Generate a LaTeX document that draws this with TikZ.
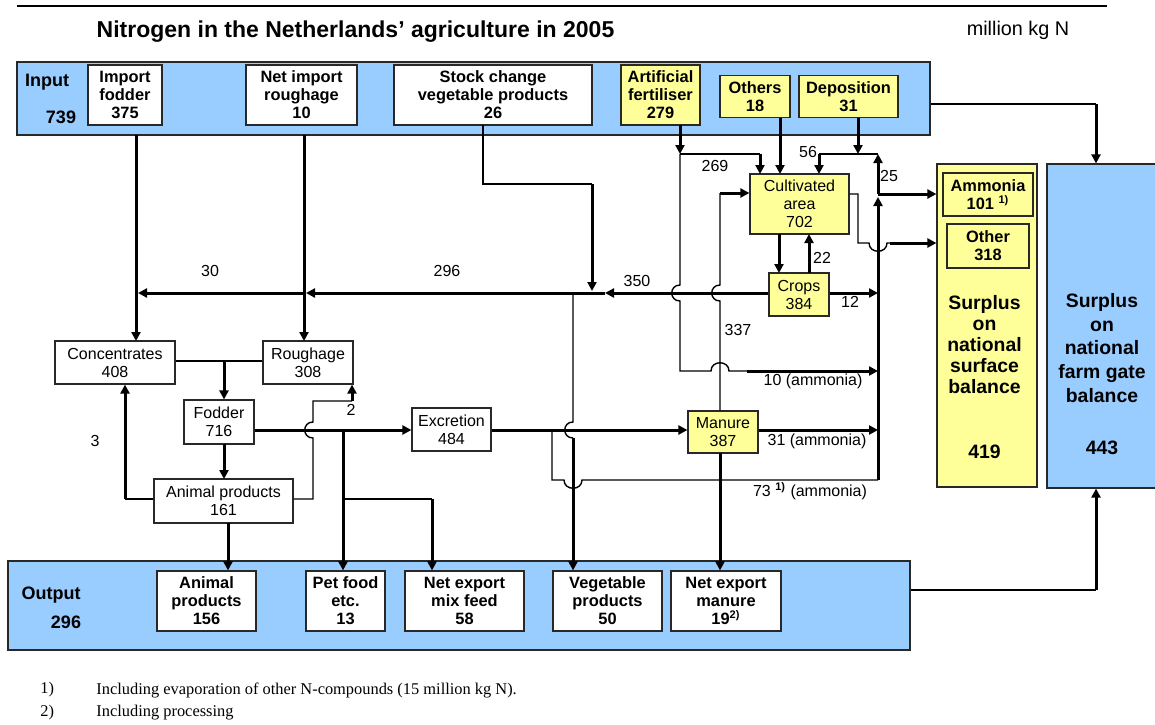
\documentclass[tikz,border=0pt]{standalone}
\usepackage{fontspec}
\setmainfont{Liberation Sans}
\newfontfamily\notefont{Liberation Serif}
\usetikzlibrary{positioning,calc}
\usetikzlibrary{arrows.meta}
\definecolor{bandblue}{RGB}{153,204,255}
\definecolor{boxyellow}{RGB}{255,255,153}
\definecolor{rim}{RGB}{40,40,40}
\newcommand{\regf}{\fontsize{8}{9}\selectfont}
\newcommand{\boldf}{\fontsize{8.2}{9}\selectfont\bfseries}
\newcommand{\supr}[1]{\textsuperscript{\fontsize{5.5}{6}\selectfont\bfseries #1}}
\tikzstyle{band} = [rectangle, draw=rim, fill=bandblue, line width=0.6pt, inner sep=0pt]
\tikzstyle{wbox} = [rectangle, draw=rim, fill=white, line width=0.6pt, inner sep=0pt, align=center, font=\regf]
\tikzstyle{ybox} = [wbox, fill=boxyellow]
\tikzstyle{wboxb} = [wbox, font=\boldf]
\tikzstyle{yboxb} = [ybox, font=\boldf]
\tikzstyle{flow} = [line width=1.5pt, -{Triangle[length=4.5pt,width=4.5pt]}]
\tikzstyle{link} = [line width=0.7pt]
\tikzstyle{num} = [inner sep=0pt, font=\regf]
\tikzstyle{head} = [inner sep=0pt, font=\fontsize{9}{10}\selectfont\bfseries]
\tikzstyle{big} = [inner sep=0pt, align=center, font=\fontsize{9.7}{10.5}\selectfont\bfseries]
\begin{document}
\begin{tikzpicture}[x=0.5pt,y=-0.5pt]
	\useasboundingbox (0,0) rectangle (1155,724);
	\draw[link] (17,6) -- (1107,6);
	\node (title) at (355.5,32) [inner sep=0pt, font=\fontsize{11.5}{12}\selectfont\bfseries] {Nitrogen in the Netherlands’ agriculture in 2005};
	\node (unit) at (1018,30) [inner sep=0pt, font=\fontsize{9.9}{11}\selectfont] {million kg N};

	\node (bin) at (473.5,98.5) [band, minimum width=456.5pt, minimum height=36.5pt] {};
	\node (tin) at (47,82) [head] {Input};
	\node (vin) at (61,117) [head] {739};
	\node (impfod) at (125,95) [wboxb, minimum width=37pt, minimum height=30pt] {Import\\fodder\\375};
	\node (netrough) at (301.5,95) [wboxb, minimum width=55.5pt, minimum height=30pt] {Net import\\roughage\\10};
	\node (stock) at (493,95) [wboxb, minimum width=99pt, minimum height=30pt] {Stock change\\vegetable products\\26};
	\node (artfert) at (660.5,95) [yboxb, minimum width=39.5pt, minimum height=30pt] {Artificial\\fertiliser\\279};
	\node (others) at (755,96.7) [yboxb, minimum width=35pt, minimum height=21pt] {Others\\18};
	\node (depos) at (848.5,96.7) [yboxb, minimum width=49.5pt, minimum height=21pt] {Deposition\\31};

	\node (cult) at (799.5,204) [ybox, minimum width=49.5pt, minimum height=30pt] {Cultivated\\area\\702};
	\node (crops) at (799,294.5) [ybox, minimum width=30pt, minimum height=21.5pt] {Crops\\384};
	\node (conc) at (115,362.5) [wbox, minimum width=60pt, minimum height=21.5pt] {Concentrates\\408};
	\node (rough) at (308,362.5) [wbox, minimum width=45pt, minimum height=21.5pt] {Roughage\\308};
	\node (fod) at (219,422) [wbox, minimum width=35pt, minimum height=22pt] {Fodder\\716};
	\node (anim) at (223.5,501) [wbox, minimum width=69.5pt, minimum height=22pt] {Animal products\\161};
	\node (excr) at (451.5,429.5) [wbox, minimum width=39.5pt, minimum height=21.5pt] {Excretion\\484};
	\node (man) at (723,432) [ybox, minimum width=35pt, minimum height=21pt] {Manure\\387};

	\node (surf) at (987,325.5) [rectangle, draw=rim, fill=boxyellow, line width=0.6pt, minimum width=50pt, minimum height=161.5pt] {};
	\node (amm) at (988,194.5) [yboxb, minimum width=45pt, minimum height=21.5pt] {Ammonia\\101 \supr{1)}};
	\node (oth) at (988,246) [yboxb, minimum width=41pt, minimum height=22pt] {Other\\318};
	\node (tsurf) at (984.5,345) [big] {Surplus\\on\\national\\surface\\balance};
	\node (vsurf) at (984.5,452) [big] {419};
	\node (farm) at (1103.5,326) [band, minimum width=56.5pt, minimum height=162pt] {};
	\node (tfarm) at (1102,348) [big, font=\fontsize{9.7}{11.8}\selectfont\bfseries] {Surplus\\on\\national\\farm gate\\balance};
	\node (vfarm) at (1102,448) [big] {443};

	\node (bout) at (459,605.5) [band, minimum width=451pt, minimum height=44.5pt] {};
	\node (tout) at (51,595) [head] {Output};
	\node (vout) at (66,622) [head] {296};
	\node (outanim) at (206.5,601) [wboxb, minimum width=49.5pt, minimum height=30pt] {Animal\\products\\156};
	\node (outpet) at (345.5,601) [wboxb, minimum width=39.5pt, minimum height=30pt] {Pet food\\etc.\\13};
	\node (outmix) at (464.5,601) [wboxb, minimum width=59.5pt, minimum height=30pt] {Net export\\mix feed\\58};
	\node (outveg) at (607.5,601) [wboxb, minimum width=54.5pt, minimum height=30pt] {Vegetable\\products\\50};
	\node (outman) at (726,601) [wboxb, minimum width=55pt, minimum height=30pt] {Net export\\manure\\19\supr{2)}};

	\node (n30) at (210,271) [num] {30};
	\node (n296) at (447,271) [num] {296};
	\node (n350) at (637,281) [num] {350};
	\node (n269) at (715,166) [num] {269};
	\node (n56) at (808,152) [num] {56};
	\node (n25) at (889,176) [num] {25};
	\node (n22) at (822,258) [num] {22};
	\node (n12) at (850,302) [num] {12};
	\node (n337) at (738,330) [num] {337};
	\node (n10) at (813,381) [num] {10 (ammonia)};
	\node (n31) at (817,441) [num] {31 (ammonia)};
	\node (n73) at (810,491) [num] {73 \supr{1)}\ (ammonia)};
	\node (n3) at (95,441) [num] {3};
	\node (n2) at (351,410) [num] {2};

	\node (f1) at (40,690) [anchor=west, inner sep=0pt, font=\notefont\fontsize{8.2}{9}\selectfont] {1)};
	\node (f1t) at (96,690) [anchor=west, inner sep=0pt, font=\notefont\fontsize{8.2}{9}\selectfont] {Including evaporation of other N-compounds (15 million kg N).};
	\node (f2) at (40,713) [anchor=west, inner sep=0pt, font=\notefont\fontsize{8.2}{9}\selectfont] {2)};
	\node (f2t) at (96,713) [anchor=west, inner sep=0pt, font=\notefont\fontsize{8.2}{9}\selectfont] {Including processing};

	\coordinate (ig) at (1096,104);
	\coordinate (og) at (1096,590);
	\coordinate (af) at (680,154);
	\coordinate (dp) at (858,154);
	\coordinate (sk) at (592,184);
	\coordinate (cl) at (878,194);
	\coordinate (cx) at (878,480);
	\coordinate (ca) at (224,361);
	\coordinate (pf) at (343,430);
	\coordinate (mx) at (343,499);
	\coordinate (ex) at (552,430);

	\draw[link] (bin.east |- ig) -- (ig);
	\draw[flow] (ig) -- (ig |- farm.north);
	\draw[link] (bout.east |- og) -- (og);
	\draw[flow] (og) -- (og |- farm.south);

	\draw[flow] (136,135) -- (136,341);
	\draw[flow] (304,135) -- (304,341);
	\draw[link] (483,125) -- (483,184) -- (sk);
	\draw[flow] (sk) -- (592,291);
	\draw[flow] (680,125) -- (af);
	\draw[link] (af) -- (760,154);
	\draw[flow] (760,154) -- (760,174);
	\draw[flow] (780,118) -- (780,174);
	\draw[flow] (858,118) -- (dp);
	\draw[link] (819,154) -- (878,154);
	\draw[flow] (819,154) -- (819,174);
	\draw[flow] (cx) -- (878,197);
	\draw[flow] (cl) -- (878,154);
	\draw[flow] (cl) -- (cl -| surf.west);
	\draw[link] (cult.east |- cl) -- (858,194) -- (858,243) -- (869,243) .. controls (869,254) and (887,254) .. (887,243) -- (890,243);
	\draw[flow] (890,243) -- (surf.west |- 0,243);

	\draw[flow] (779,234) -- (779,273);
	\draw[flow] (809,273) -- (809,234);
	\draw[flow] (crops.east |- 0,293) -- (878,293);
	\draw[flow] (crops.west |- 0,293) -- (605,293);
	\draw[flow] (605,293) -- (306,293);
	\draw[flow] (304,293) -- (138,293);

	\draw[link] (af) -- (680,285) .. controls (669,285) and (669,301) .. (680,301) -- (680,371) -- (711,371) .. controls (711,360) and (729,360) .. (729,371) -- (747,371);
	\draw[flow] (747,371) -- (878,371);
	\draw[link] (man.north -| 720,0) -- (720,301) .. controls (709,301) and (709,285) .. (720,285) -- (720,193);
	\draw[flow] (720,193) -- (cult.west |- 0,193);
	\draw[flow] (man.east |- 0,430) -- (878,430);
	\draw[flow] (720,453) -- (720,453 |- outman.north);

	\draw[link] (573,293) -- (573,422) .. controls (562,422) and (562,438) .. (573,438);
	\draw[flow] (573,438) -- (573,438 |- outveg.north);
	\draw[link] (ex) -- (552,480) -- (564,480) .. controls (564,491) and (582,491) .. (582,480) -- (cx);

	\draw[link] (conc.east |- ca) -- (rough.west |- ca);
	\draw[flow] (ca) -- (ca |- fod.north);
	\draw[flow] (224,444) -- (224,479);
	\draw[flow] (228,523) -- (228,523 |- outanim.north);
	\draw[flow] (fod.east |- pf) -- (excr.west |- pf);
	\draw[flow] (excr.east |- pf) -- (man.west |- pf);
	\draw[flow] (pf) -- (pf |- outpet.north);
	\draw[link] (mx) -- (432,499);
	\draw[flow] (432,499) -- (432,499 |- outmix.north);
	\draw[link] (anim.west |- 0,499) -- (125,499);
	\draw[flow] (125,499) -- (125,499 |- conc.south);
	\draw[link] (anim.east |- 0,499) -- (313,499) -- (313,438) .. controls (302,438) and (302,422) .. (313,422) -- (313,401) -- (352,401);
	\draw[flow] (352,401) -- (352,401 |- rough.south);
\end{tikzpicture}
\end{document}
